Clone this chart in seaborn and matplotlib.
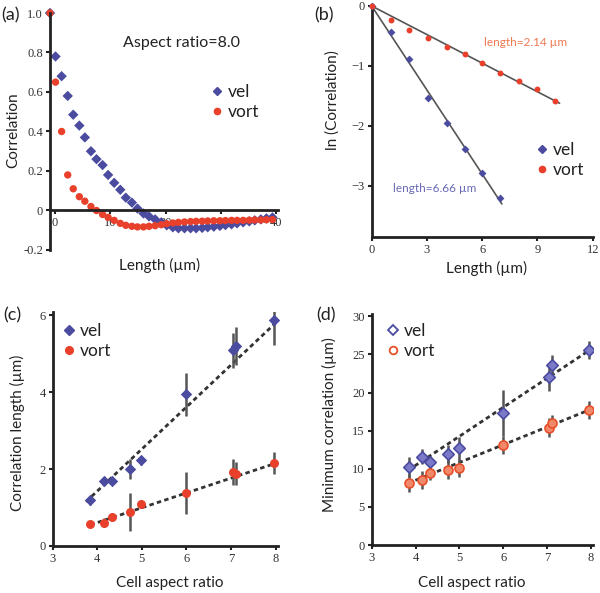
import numpy as np
import pandas as pd
import seaborn as sns
import matplotlib
matplotlib.use("Agg")
import matplotlib.pyplot as plt

# ---- data ----
# (a) correlation vs length, aspect ratio 8.0
lag_a = [-0.9, 0.1, 1.2, 2.3, 3.3, 4.4, 5.4, 6.5, 7.5, 8.6, 9.6, 10.7, 11.8, 12.8,
         13.9, 14.9, 16.0, 17.0, 18.1, 19.2, 20.2, 21.3, 22.3, 23.4, 24.5, 25.5,
         26.6, 27.6, 28.7, 29.8, 30.8, 31.9, 32.9, 34.0, 35.1, 36.1, 37.2, 38.2, 39.3]
corr_vel = [1.0, 0.78, 0.68, 0.58, 0.485, 0.43, 0.37, 0.30, 0.26, 0.23, 0.18, 0.14,
            0.105, 0.065, 0.04, 0.01, -0.015, -0.03, -0.045, -0.06, -0.075, -0.085,
            -0.09, -0.09, -0.09, -0.09, -0.088, -0.085, -0.082, -0.078, -0.074, -0.07,
            -0.065, -0.06, -0.055, -0.05, -0.045, -0.04, -0.035]
corr_vort = [1.0, 0.65, 0.40, 0.18, 0.11, 0.07, 0.047, 0.02, 0.0, -0.02, -0.035, -0.05,
             -0.065, -0.075, -0.08, -0.083, -0.083, -0.08, -0.077, -0.072, -0.067,
             -0.063, -0.06, -0.058, -0.056, -0.055, -0.054, -0.053, -0.052, -0.052,
             -0.051, -0.05, -0.05, -0.05, -0.049, -0.048, -0.048, -0.047, -0.046]

# (b) ln(correlation) vs length
lag_b_vel = [0, 1.07, 2.05, 3.04, 4.08, 5.05, 6.0, 6.97]
ln_vel = [0, -0.43, -0.88, -1.54, -1.95, -2.39, -2.78, -3.2]
lag_b_vort = [0, 1.03, 2.05, 3.04, 4.08, 5.05, 6.0, 6.97, 7.99, 8.97, 9.96]
ln_vort = [0, -0.24, -0.40, -0.54, -0.69, -0.80, -0.95, -1.12, -1.25, -1.38, -1.59]
fit_b_vel_x, fit_b_vel_y = [0, 7.07], [0, -3.30]
fit_b_vort_x, fit_b_vort_y = [0, 10.2], [0, -1.62]

# (c) correlation length vs aspect ratio
aspect = [3.85, 4.15, 4.33, 4.73, 4.98, 6.0, 7.05, 7.12, 7.95]
len_vel = [1.19, 1.70, 1.70, 2.0, 2.23, 3.94, 5.08, 5.2, 5.88]
len_vel_err = [0.12, 0.1, 0.1, 0.25, 0.12, 0.55, 0.45, 0.5, 0.65]
len_vort = [0.57, 0.61, 0.76, 0.89, 1.09, 1.37, 1.92, 1.88, 2.16]
len_vort_err = [0.08, 0.12, 0.1, 0.5, 0.1, 0.55, 0.33, 0.3, 0.28]
fit_c_vel_x, fit_c_vel_y = [3.75, 8.0], [1.15, 5.8]
fit_c_vort_x, fit_c_vort_y = [3.85, 8.0], [0.55, 2.15]

# (d) minimum correlation vs aspect ratio
min_vel = [10.26, 11.57, 10.83, 11.92, 12.66, 17.3, 22.0, 23.6, 25.6]
min_vel_err = [1.3, 1.0, 0.9, 1.2, 1.5, 3.0, 1.8, 1.3, 1.2]
min_vort = [8.17, 8.5, 9.48, 9.9, 10.1, 13.1, 15.4, 16.0, 17.7]
min_vort_err = [1.2, 1.2, 1.0, 1.2, 1.2, 1.2, 1.2, 1.0, 1.2]
fit_d_vel_x, fit_d_vel_y = [3.83, 7.95], [9.8, 25.5]
fit_d_vort_x, fit_d_vort_y = [3.83, 7.95], [8.1, 17.7]

VEL = "#4b4ba0"
VORT = "#e8402a"

sns.set_style("white")
plt.rcParams['font.family'] = ['Lato', 'DejaVu Sans']
LAB = 11
TXT = '#222222'
TICKFONT = dict(family=['Liberation Serif', 'DejaVu Serif'], size=9)

fig = plt.figure(figsize=(6.0, 5.93), dpi=100)
W, H = 600, 593


def add_ax(x0, y0, x1, y1):
    # pixel box (top-left origin) -> axes
    return fig.add_axes([x0 / W, 1 - y1 / H, (x1 - x0) / W, (y1 - y0) / H])


def style(ax):
    for s in ['top', 'right']:
        ax.spines[s].set_visible(False)
    for s in ['left', 'bottom']:
        ax.spines[s].set_linewidth(2)
        ax.spines[s].set_color('#222222')
    ax.tick_params(axis='both', direction='out', length=3, width=1.5,
                   color='#222222', pad=2, left=True, bottom=True)
    for lbl in ax.get_xticklabels() + ax.get_yticklabels():
        lbl.set_fontfamily(TICKFONT['family'])
        lbl.set_fontsize(TICKFONT['size'])
        lbl.set_color('#333333')


def legend(ax, x, y, handles, size=12.5):
    leg = ax.legend(handles=handles, labels=['vel', 'vort'], loc='upper left',
                    bbox_to_anchor=(x / W, 1 - y / H), bbox_transform=fig.transFigure,
                    frameon=False, borderpad=0, handlelength=0.6, handletextpad=0.35,
                    labelspacing=0.25, fontsize=size)
    for t in leg.get_texts():
        t.set_color(TXT)


# ---- (a) ----
ax = add_ax(50, 13, 278, 250)
df_a = pd.DataFrame({'lag': lag_a * 2, 'corr': corr_vel + corr_vort,
                     'kind': ['vel'] * len(lag_a) + ['vort'] * len(lag_a)})
sns.scatterplot(data=df_a, x='lag', y='corr', hue='kind', style='kind',
                markers={'vel': 'D', 'vort': 'o'}, palette={'vel': VEL, 'vort': VORT},
                s=28, linewidth=0, ax=ax, legend=False, clip_on=False)
ax.set_xlim(-0.9, 40.3)
ax.set_ylim(-0.2, 1.0)
ax.spines['bottom'].set_position(('data', 0))
ax.set_xticks([0, 10, 20, 30, 40])
ax.set_xticklabels(['0', '10', '20', '', '40'])
ax.set_yticks([-0.2, 0, 0.2, 0.4, 0.6, 0.8, 1.0])
ax.set_yticklabels(['-0.2', '0', '0.2', '0.4', '0.6', '0.8', '1.0'])
ax.set_xlabel('')
ax.set_ylabel('')
style(ax)
fig.text(160 / W, 1 - 265 / H, 'Length (\u00b5m)', ha='center', va='center', fontsize=LAB, color=TXT)
fig.text(13 / W, 1 - 130 / H, 'Correlation', ha='center', va='center', rotation=90, fontsize=LAB, color=TXT)
fig.text(181 / W, 1 - 43 / H, 'Aspect ratio=8.0', ha='center', va='center', fontsize=11.5, color=TXT)
fig.text(1 / W, 1 - 15 / H, '(a)', ha='left', va='center', fontsize=13, color=TXT)
h = [plt.Line2D([], [], ls='', marker='D', ms=4, color=VEL),
     plt.Line2D([], [], ls='', marker='o', ms=4.5, color=VORT)]
legend(ax, 203, 75, h)

# ---- (b) ----
ax = add_ax(371.7, 6, 592.7, 237)
sns.lineplot(x=fit_b_vel_x, y=fit_b_vel_y, color='#555555', lw=1.2, ax=ax)
sns.lineplot(x=fit_b_vort_x, y=fit_b_vort_y, color='#555555', lw=1.2, ax=ax)
sns.scatterplot(x=lag_b_vel, y=ln_vel, marker='D', color=VEL, s=16, linewidth=0, ax=ax, clip_on=False, zorder=3)
sns.scatterplot(x=lag_b_vort, y=ln_vort, marker='o', color=VORT, s=18, linewidth=0, ax=ax, clip_on=False, zorder=3)
ax.set_xlim(0, 12)
ax.set_ylim(-3.85, 0)
ax.set_xticks([0, 3, 6, 9, 12])
ax.set_yticks([-3, -2, -1, 0])
ax.set_yticklabels(['\u22123', '\u22122', '\u22121', '0'])
style(ax)
fig.text(487 / W, 1 - 268 / H, 'Length (\u00b5m)', ha='center', va='center', fontsize=LAB, color=TXT)
fig.text(333 / W, 1 - 100 / H, 'ln (Correlation)', ha='center', va='center', rotation=90, fontsize=LAB, color=TXT)
fig.text(526 / W, 1 - 43 / H, 'length=2.14 \u00b5m', ha='center', va='center', fontsize=8.5, color='#f07850')
fig.text(435 / W, 1 - 188 / H, 'length=6.66 \u00b5m', ha='center', va='center', fontsize=8.5, color='#6a6ab8')
fig.text(314 / W, 1 - 15 / H, '(b)', ha='left', va='center', fontsize=13, color=TXT)
h = [plt.Line2D([], [], ls='', marker='D', ms=4, color=VEL),
     plt.Line2D([], [], ls='', marker='o', ms=4.5, color=VORT)]
legend(ax, 528, 133, h)

# ---- (c) ----
ax = add_ax(52.5, 312, 278, 546)
ax.plot(fit_c_vel_x, fit_c_vel_y, ls=(0, (1.6, 1.2)), color='#333333', lw=2)
ax.plot(fit_c_vort_x, fit_c_vort_y, ls=(0, (1.6, 1.2)), color='#333333', lw=2)
ax.errorbar(aspect, len_vel, yerr=len_vel_err, fmt='none', ecolor='#555555', elinewidth=1.8, capsize=0)
ax.errorbar(aspect, len_vort, yerr=len_vort_err, fmt='none', ecolor='#555555', elinewidth=1.8, capsize=0)
sns.scatterplot(x=aspect, y=len_vel, marker='D', color=VEL, s=34, linewidth=0, ax=ax, zorder=3, clip_on=False)
sns.scatterplot(x=aspect, y=len_vort, marker='o', color=VORT, s=42, linewidth=0, ax=ax, zorder=3, clip_on=False)
ax.set_xlim(3, 8.05)
ax.set_ylim(0, 6.08)
ax.set_xticks([3, 4, 5, 6, 7, 8])
ax.set_yticks([0, 2, 4, 6])
style(ax)
fig.text(170 / W, 1 - 583 / H, 'Cell aspect ratio', ha='center', va='center', fontsize=LAB, color=TXT)
fig.text(17 / W, 1 - 433 / H, 'Correlation length (\u00b5m)', ha='center', va='center', rotation=90, fontsize=LAB, color=TXT)
fig.text(3 / W, 1 - 315 / H, '(c)', ha='left', va='center', fontsize=13, color=TXT)
h = [plt.Line2D([], [], ls='', marker='D', ms=5, color=VEL),
     plt.Line2D([], [], ls='', marker='o', ms=5.5, color=VORT)]
legend(ax, 55, 314, h)

# ---- (d) ----
ax = add_ax(371.7, 314, 593.3, 545)
ax.plot(fit_d_vel_x, fit_d_vel_y, ls=(0, (1.6, 1.2)), color='#333333', lw=2)
ax.plot(fit_d_vort_x, fit_d_vort_y, ls=(0, (1.6, 1.2)), color='#333333', lw=2)
ax.errorbar(aspect, min_vel, yerr=min_vel_err, fmt='none', ecolor='#555555', elinewidth=1.8, capsize=0)
ax.errorbar(aspect, min_vort, yerr=min_vort_err, fmt='none', ecolor='#555555', elinewidth=1.8, capsize=0)
sns.scatterplot(x=aspect, y=min_vel, marker='D', color='#7a7ac8', edgecolor=VEL, s=34, linewidth=1.2, ax=ax, zorder=3)
sns.scatterplot(x=aspect, y=min_vort, marker='o', color='#f0886a', edgecolor='#e8502a', s=42, linewidth=1.2, ax=ax, zorder=3)
ax.set_xlim(3, 8.05)
ax.set_ylim(0, 30.3)
ax.set_xticks([3, 4, 5, 6, 7, 8])
ax.set_yticks([0, 5, 10, 15, 20, 25, 30])
style(ax)
fig.text(472 / W, 1 - 583 / H, 'Cell aspect ratio', ha='center', va='center', fontsize=LAB, color=TXT)
fig.text(329 / W, 1 - 425 / H, 'Minimum correlation (\u00b5m)', ha='center', va='center', rotation=90, fontsize=LAB, color=TXT)
fig.text(316 / W, 1 - 315 / H, '(d)', ha='left', va='center', fontsize=13, color=TXT)
h = [plt.Line2D([], [], ls='', marker='D', ms=5, mfc='white', mec=VEL, mew=1.3),
     plt.Line2D([], [], ls='', marker='o', ms=5.5, mfc='white', mec='#e8502a', mew=1.3)]
legend(ax, 379, 314, h)

plt.savefig('out.png', dpi=100)
